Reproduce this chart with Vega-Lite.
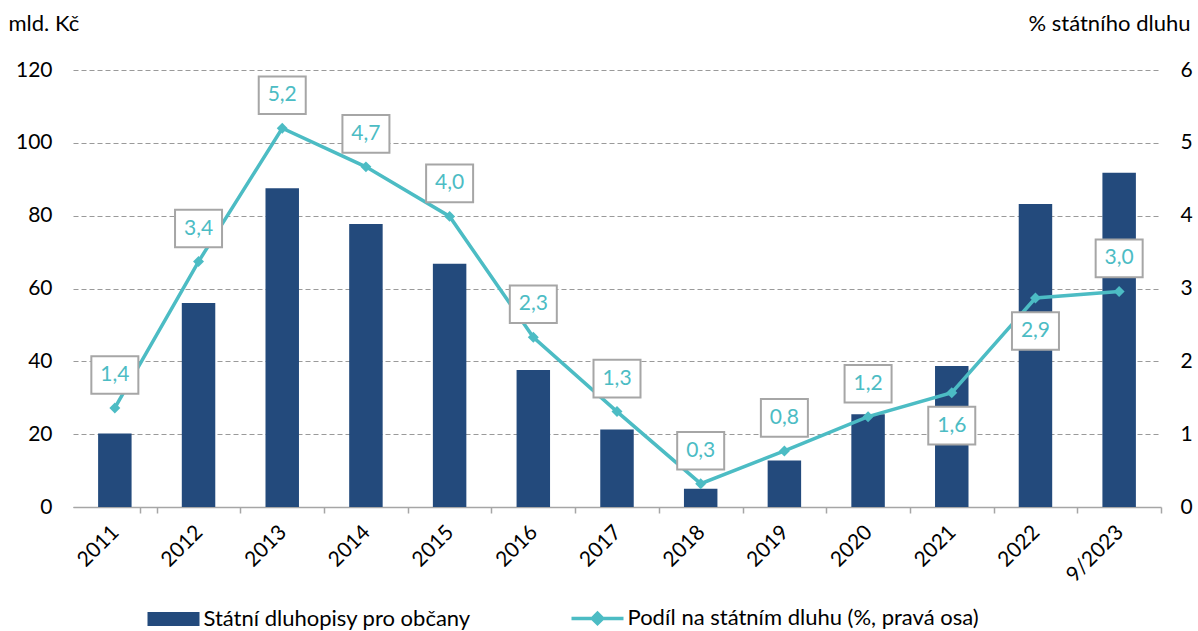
{
  "$schema": "https://vega.github.io/schema/vega-lite/v6.json",
  "width": 1088,
  "height": 437,
  "autosize": "none",
  "padding": {"left": 73, "top": 70, "right": 37, "bottom": 124},
  "background": "white",
  "config": {
    "view": {"stroke": null},
    "font": "Lato",
    "locale": {"number": {"decimal": ",", "thousands": " ", "grouping": [3], "currency": ["", " Kč"]}},
    "axis": {"labelFont": "Lato", "titleFont": "Lato", "labelColor": "#000000", "titleColor": "#000000", "labelFontSize": 21, "titleFontSize": 22, "titleFontWeight": "normal"},
    "legend": {
      "orient": "none",
      "legendX": 89.5,
      "legendY": 537,
      "direction": "horizontal",
      "symbolSize": 2704,
      "labelFont": "Lato",
      "labelFontSize": 22,
      "labelColor": "#000000",
      "labelOffset": 19,
      "columnPadding": 93,
      "labelLimit": 600,
      "symbolType": "square"
    }
  },
  "data": {
    "values": [
      {"year": "2011", "bonds": 20.2, "share": 1.36},
      {"year": "2012", "bonds": 56.0, "share": 3.37},
      {"year": "2013", "bonds": 87.5, "share": 5.2},
      {"year": "2014", "bonds": 77.7, "share": 4.67},
      {"year": "2015", "bonds": 66.8, "share": 3.99},
      {"year": "2016", "bonds": 37.6, "share": 2.33},
      {"year": "2017", "bonds": 21.3, "share": 1.31},
      {"year": "2018", "bonds": 5.0, "share": 0.32},
      {"year": "2019", "bonds": 12.8, "share": 0.77},
      {"year": "2020", "bonds": 25.5, "share": 1.24},
      {"year": "2021", "bonds": 38.7, "share": 1.57},
      {"year": "2022", "bonds": 83.2, "share": 2.87},
      {"year": "9/2023", "bonds": 91.8, "share": 2.96}
    ]
  },
  "encoding": {
    "x": {
      "field": "year",
      "type": "nominal",
      "sort": null,
      "scale": {"paddingInner": 0.6, "paddingOuter": 0.3},
      "axis": {
        "title": null,
        "labelAngle": -45,
        "labelAlign": "right",
        "labelBaseline": "top",
        "labelPadding": 8,
        "tickOffset": 41.85,
        "labelOffset": -49,
        "tickExtra": true,
        "tickSize": 6,
        "tickColor": "#a6a6a6",
        "tickWidth": 1.5,
        "domainColor": "#a6a6a6",
        "domainWidth": 1.5,
        "grid": false
      }
    }
  },
  "layer": [
    {
      "mark": {"type": "bar"},
      "encoding": {
        "y": {
          "field": "bonds",
          "type": "quantitative",
          "scale": {"domain": [0, 120]},
          "axis": {
            "title": "mld. Kč",
            "titleAngle": 0,
            "titleAlign": "left",
            "titleBaseline": "alphabetic",
            "titleX": -65,
            "titleY": -40,
            "values": [0, 20, 40, 60, 80, 100, 120],
            "grid": true,
            "gridDash": [5, 3],
            "gridColor": "#9a9a9a",
            "gridWidth": 1.2,
            "domain": false,
            "ticks": false,
            "labelPadding": 21
          }
        },
        "color": {
          "datum": "Státní dluhopisy pro občany",
          "type": "nominal",
          "scale": {
            "domain": ["Státní dluhopisy pro občany", "Podíl na státním dluhu (%, pravá osa)"],
            "range": ["#234a7c", "#4cbcc4"]
          },
          "legend": {
            "title": null,
            "encode": {
              "symbols": {
                "update": {
                  "shape": {"signal": "datum.value == 'Státní dluhopisy pro občany' ? 'M-1,-0.27H1V0.27H-1Z' : 'M-1,0H1M0,-0.2L0.2,0L0,0.2L-0.2,0Z'"},
                  "fill": {"signal": "datum.value == 'Státní dluhopisy pro občany' ? '#234a7c' : '#4cbcc4'"},
                  "stroke": {"signal": "datum.value == 'Státní dluhopisy pro občany' ? '#234a7c' : '#4cbcc4'"},
                  "strokeWidth": {"signal": "datum.value == 'Státní dluhopisy pro občany' ? 0 : 3.5"},
                  "opacity": {"value": 1},
                  "fillOpacity": {"value": 1}
                }
              }
            }
          }
        }
      }
    },
    {
      "encoding": {
        "y": {
          "field": "share",
          "type": "quantitative",
          "scale": {"domain": [0, 6]},
          "axis": {
            "orient": "right",
            "title": "% státního dluhu",
            "titleAngle": 0,
            "titleAlign": "right",
            "titleBaseline": "alphabetic",
            "titleX": 29,
            "titleY": -40,
            "values": [0, 1, 2, 3, 4, 5, 6],
            "grid": false,
            "domain": false,
            "ticks": false,
            "labelPadding": 19
          }
        }
      },
      "layer": [
        {
          "mark": {"type": "line", "strokeWidth": 3.5, "point": {"shape": "diamond", "size": 120, "filled": true, "color": "#4cbcc4"}},
          "encoding": {
            "color": {"datum": "Podíl na státním dluhu (%, pravá osa)", "type": "nominal"}
          }
        },
        {
          "transform": [{"filter": "datum.year != '2021' && datum.year != '2022'"}],
          "layer": [
            {
              "mark": {"type": "point", "shape": "M-1,-0.8H1V0.8H-1Z", "size": 2209, "filled": true, "fill": "white", "stroke": "#a6a6a6", "strokeWidth": 2, "opacity": 1, "yOffset": -33},
              "encoding": {}
            },
            {
              "mark": {"type": "text", "color": "#4cbcc4", "fontSize": 21, "font": "Lato", "baseline": "middle", "align": "center", "yOffset": -33},
              "encoding": {"text": {"field": "share", "type": "quantitative", "format": ".1f"}}
            }
          ]
        },
        {
          "transform": [{"filter": "datum.year == '2021' || datum.year == '2022'"}],
          "layer": [
            {
              "mark": {"type": "point", "shape": "M-1,-0.8H1V0.8H-1Z", "size": 2209, "filled": true, "fill": "white", "stroke": "#a6a6a6", "strokeWidth": 2, "opacity": 1, "yOffset": 33},
              "encoding": {}
            },
            {
              "mark": {"type": "text", "color": "#4cbcc4", "fontSize": 21, "font": "Lato", "baseline": "middle", "align": "center", "yOffset": 33},
              "encoding": {"text": {"field": "share", "type": "quantitative", "format": ".1f"}}
            }
          ]
        }
      ]
    }
  ],
  "resolve": {"scale": {"y": "independent"}}
}
